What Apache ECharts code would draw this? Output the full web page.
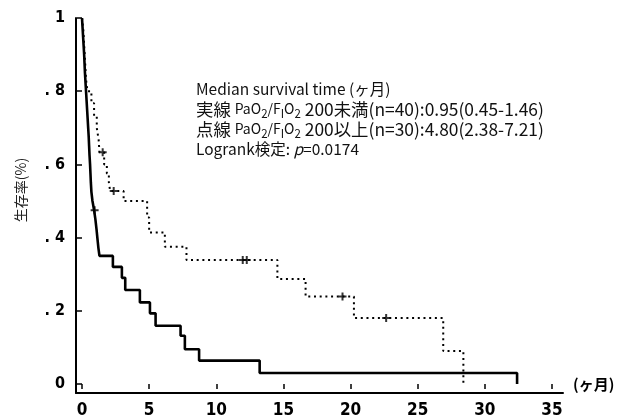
<!DOCTYPE html>
<html><head><meta charset="utf-8">
<script src="https://cdn.jsdelivr.net/npm/echarts@6/dist/echarts.min.js"></script>
<style>html,body{margin:0;padding:0;background:#fff}#c{width:636px;height:420px}</style>
</head><body><div id="c"></div>
<script>
// Solid line: PaO2/FiO2 < 200 (n=40)
const solidTime = [0, 0.04, 0.08, 0.12, 0.16, 0.19, 0.22, 0.26, 0.30, 0.34, 0.38, 0.42, 0.46, 0.50, 0.53, 0.56, 0.60, 0.63, 0.66, 0.70, 0.78, 0.90, 1.00, 1.08, 1.15, 1.22, 1.30, 2.30, 2.97, 3.22, 4.31, 5.06, 5.48, 7.34, 7.66, 8.72, 13.23, 32.4];
const solidSurv = [1, 0.975, 0.95, 0.925, 0.9, 0.875, 0.85, 0.825, 0.8, 0.775, 0.75, 0.725, 0.7, 0.675, 0.65, 0.625, 0.6, 0.575, 0.55, 0.525, 0.5, 0.475, 0.449, 0.423, 0.397, 0.372, 0.35, 0.32, 0.29, 0.257, 0.223, 0.193, 0.159, 0.132, 0.095, 0.064, 0.03, 0];
// Dotted line: PaO2/FiO2 >= 200 (n=30)
const dottedTime = [0, 0.1, 0.15, 0.2, 0.25, 0.3, 0.4, 0.7, 0.9, 1.1, 1.24, 1.3, 1.65, 1.85, 2.0, 2.1, 3.1, 4.85, 5.0, 6.17, 7.78, 14.55, 16.65, 20.25, 26.9, 28.4];
const dottedSurv = [1, 0.967, 0.933, 0.9, 0.867, 0.833, 0.8, 0.767, 0.733, 0.7, 0.667, 0.633, 0.6, 0.575, 0.55, 0.527, 0.5, 0.455, 0.414, 0.375, 0.339, 0.287, 0.239, 0.18, 0.09, 0];
// Censor marks
const solidCensorTime = [0.94];
const solidCensorSurv = [0.475];
const dottedCensorTime = [1.54, 2.36, 11.97, 12.27, 19.4, 22.65];
const dottedCensorSurv = [0.633, 0.527, 0.339, 0.339, 0.239, 0.18];
// Tick labels
const yTickLabels = ['0', '. 2', '. 4', '. 6', '. 8', '1'];
const xTickLabels = ['0', '5', '10', '15', '20', '25', '30', '35'];

const zip = (a, b) => a.map((v, i) => [v, b[i]]);
const plus = 'path://M3,0H5V3H8V5H5V8H3V5H0V3H3Z';
const numFont = "'Liberation Sans Narrow', 'DejaVu Sans Condensed', 'Arial Narrow', sans-serif";
const jp = "'Noto Sans CJK JP', sans-serif";

const chart = echarts.init(document.getElementById('c'), null, {renderer: 'canvas'});
chart.setOption({
  animation: false,
  backgroundColor: '#fff',
  title: {
    left: 191, top: 74,
    text: [
      '{h|Median survival time (ヶ月)}',
      '{a|実線 }{s|PaO}{t|2}{s|/F}{t|I}{s|O}{t|2}{a| 200未満(n=40):0.95(0.45-1.46)}',
      '{a|点線 }{s|PaO}{t|2}{s|/F}{t|I}{s|O}{t|2}{a| 200以上(n=30):4.80(2.38-7.21)}',
      '{h|Logrank検定: }{i|p}{h|=0.0174}'
    ].join('\n'),
    textStyle: {
      fontWeight: 'normal',
      rich: {
        h: {fontFamily: jp, fontSize: 15.5, fontWeight: 'normal', color: '#111', lineHeight: 20},
        a: {fontFamily: jp, fontSize: 17.4, fontWeight: 'normal', color: '#111', lineHeight: 20},
        s: {fontFamily: jp, fontSize: 14, fontWeight: 'normal', color: '#111', lineHeight: 20},
        t: {fontFamily: jp, fontSize: 11.5, fontWeight: 'normal', color: '#111', lineHeight: 20, verticalAlign: 'bottom'},
        i: {fontFamily: jp, fontSize: 15.5, fontWeight: 'normal', fontStyle: 'italic', color: '#111', lineHeight: 20}
      }
    }
  },
  grid: [
    {left: 82, right: 84, top: 18, bottom: 36},
    {left: 76, right: 73, top: 18, bottom: 27}
  ],
  xAxis: [
    {
      gridIndex: 0, type: 'value', min: 0, max: 35, interval: 5, offset: 9,
      axisLine: {show: false},
      axisTick: {show: true, length: 5, lineStyle: {color: '#000', width: 1.5}},
      axisLabel: {margin: 9, fontFamily: numFont, fontWeight: 'bold', fontSize: 17, color: '#000',
        formatter: v => xTickLabels[Math.round(v / 5)]},
      splitLine: {show: false},
      name: '(ヶ月)', nameLocation: 'end', nameGap: 21,
      nameTextStyle: {fontFamily: jp, fontWeight: 'bold', fontSize: 15, color: '#000', padding: [37, 0, 0, 0]}
    },
    {
      gridIndex: 1, type: 'value', min: 0, max: 1,
      axisLine: {show: true, onZero: false, lineStyle: {color: '#000', width: 2}},
      axisTick: {show: false}, axisLabel: {show: false}, splitLine: {show: false}
    }
  ],
  yAxis: [
    {
      gridIndex: 0, type: 'value', min: 0, max: 1, interval: 0.2, offset: 6,
      axisLine: {show: false},
      axisTick: {show: true, length: 5, lineStyle: {color: '#000', width: 1.5}},
      axisLabel: {margin: 11, fontFamily: numFont, fontWeight: 'bold', fontSize: 16, color: '#000',
        formatter: v => yTickLabels[Math.round(v / 0.2)]},
      splitLine: {show: false},
      name: '生存率(%)', nameLocation: 'middle', nameRotate: 90, nameGap: 48,
      nameTextStyle: {fontFamily: jp, fontSize: 14, color: '#222', padding: [0, 0, 0, 22]}
    },
    {
      gridIndex: 1, type: 'value', min: 0, max: 1,
      axisLine: {show: true, onZero: false, lineStyle: {color: '#000', width: 2}},
      axisTick: {show: false}, axisLabel: {show: false}, splitLine: {show: false}
    }
  ],
  series: [
    {
      name: 'solid', type: 'line', step: 'end', xAxisIndex: 0, yAxisIndex: 0,
      data: zip(solidTime, solidSurv), symbol: 'none',
      lineStyle: {color: '#000', width: 2.6, type: 'solid'}
    },
    {
      name: 'dotted', type: 'line', step: 'end', xAxisIndex: 0, yAxisIndex: 0,
      data: zip(dottedTime, dottedSurv), symbol: 'none',
      lineStyle: {color: '#000', width: 2, type: [2, 3.7]}
    },
    {
      name: 'solidCensor', type: 'scatter', xAxisIndex: 0, yAxisIndex: 0,
      data: zip(solidCensorTime, solidCensorSurv), symbol: plus, symbolSize: 8,
      itemStyle: {color: '#000'}
    },
    {
      name: 'dottedCensor', type: 'scatter', xAxisIndex: 0, yAxisIndex: 0,
      data: zip(dottedCensorTime, dottedCensorSurv), symbol: plus, symbolSize: 8,
      itemStyle: {color: '#000'}
    }
  ]
});
</script>
</body></html>
